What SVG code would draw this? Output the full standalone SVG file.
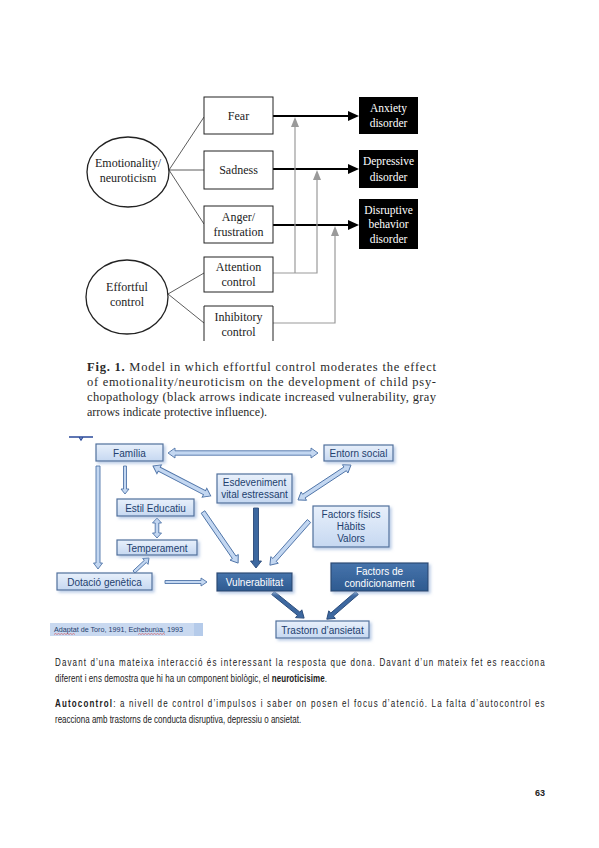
<svg xmlns="http://www.w3.org/2000/svg" width="599" height="848" viewBox="0 0 599 848">
<style>
.ser{font-family:"Liberation Serif","Times New Roman",serif;font-size:12px;fill:#222;text-anchor:middle}
.serw{font-family:"Liberation Serif","Times New Roman",serif;font-size:11.5px;fill:#fff;text-anchor:middle}
.box{fill:#fff;stroke:#222;stroke-width:1}
.bbox{fill:#000}
.ell{fill:#fff;stroke:#222;stroke-width:1.3}
.thin{stroke:#333;stroke-width:0.8;fill:none}
.blk{stroke:#000;stroke-width:1.8;fill:none}
.gry{stroke:#9a9a9a;stroke-width:1.2;fill:none}
.cap{font-family:"Liberation Serif","Times New Roman",serif;font-size:12.5px;fill:#2a2a2a}
.lb{fill:url(#lg);stroke:#50709c;stroke-width:1.2;filter:url(#sh)}
.db{fill:url(#dg);stroke:#2a4a74;stroke-width:1.2;filter:url(#sh)}
.lt{font-family:"Liberation Sans",Arial,sans-serif;font-size:10px;fill:#22406e;text-anchor:middle}
.dt{font-family:"Liberation Sans",Arial,sans-serif;font-size:10px;fill:#fff;text-anchor:middle}
.la{fill:#c3d7f1;stroke:#4f74a8;stroke-width:0.9}
.da{fill:#3d68a0;stroke:#2a4a78;stroke-width:0.9}
.para{font-family:"Liberation Sans",Arial,sans-serif;font-size:10px;fill:#1a1a1a}
</style>
<defs>
<linearGradient id="lg" x1="0" y1="0" x2="0" y2="1"><stop offset="0" stop-color="#e8f0fb"/><stop offset="1" stop-color="#c6d8f1"/></linearGradient>
<linearGradient id="dg" x1="0" y1="0" x2="0" y2="1"><stop offset="0" stop-color="#4674ac"/><stop offset="1" stop-color="#2e5a90"/></linearGradient>
<filter id="sh" x="-20%" y="-30%" width="150%" height="170%"><feDropShadow dx="2" dy="2" stdDeviation="1.5" flood-color="#a8bfe0" flood-opacity="0.8"/></filter>
</defs>
<rect width="599" height="848" fill="#fff"/>

<!-- Top figure -->
<g id="top-connectors">
<line class="thin" x1="169" y1="170" x2="204" y2="117"/>
<line class="thin" x1="169" y1="170" x2="204" y2="170"/>
<line class="thin" x1="169" y1="170" x2="204" y2="224"/>
<line class="thin" x1="168" y1="294" x2="204" y2="273"/>
<line class="thin" x1="168" y1="294" x2="204" y2="323"/>
<line class="blk" x1="273" y1="116" x2="350" y2="116"/>
<polygon points="359,116 348,111 348,121" fill="#000"/>
<line class="blk" x1="273" y1="169" x2="350" y2="169"/>
<polygon points="359,169 348,164 348,174" fill="#000"/>
<line class="blk" x1="273" y1="225" x2="350" y2="225"/>
<polygon points="359,225 348,220 348,230" fill="#000"/>
<polyline class="gry" points="273,273 317,273 317,178"/>
<line class="gry" x1="295" y1="273" x2="295" y2="126"/>
<polyline class="gry" points="273,323 335,323 335,234"/>
<polygon points="295,117 291,127 299,127" fill="#9a9a9a"/>
<polygon points="317,170 313,180 321,180" fill="#9a9a9a"/>
<polygon points="335,226 331,236 339,236" fill="#9a9a9a"/>
</g>
<g id="emotionality">
<ellipse class="ell" cx="128" cy="172" rx="41" ry="35"/>
<text class="ser" x="128" y="167">Emotionality/</text>
<text class="ser" x="128" y="182">neuroticism</text>
</g>
<g id="effortful">
<ellipse class="ell" cx="127" cy="297" rx="41" ry="37"/>
<text class="ser" x="127" y="291">Effortful</text>
<text class="ser" x="127" y="306">control</text>
</g>
<g id="fear"><rect class="box" x="204" y="97" width="69" height="37"/><text class="ser" x="238.5" y="120">Fear</text></g>
<g id="sadness"><rect class="box" x="204" y="151" width="69" height="38"/><text class="ser" x="238.5" y="174">Sadness</text></g>
<g id="anger"><rect class="box" x="204" y="206" width="69" height="37"/><text class="ser" x="238.5" y="221">Anger/</text><text class="ser" x="238.5" y="236">frustration</text></g>
<g id="attention"><rect class="box" x="204" y="257" width="69" height="35"/><text class="ser" x="238.5" y="271">Attention</text><text class="ser" x="238.5" y="286">control</text></g>
<g id="inhibitory"><path class="box" d="M204,341 V306 H273 V341"/><text class="ser" x="238.5" y="321">Inhibitory</text><text class="ser" x="238.5" y="336">control</text></g>
<g id="anxiety"><rect class="bbox" x="359" y="97" width="59" height="37"/><text class="serw" x="388.5" y="112">Anxiety</text><text class="serw" x="388.5" y="127">disorder</text></g>
<g id="depressive"><rect class="bbox" x="359" y="150" width="59" height="38"/><text class="serw" x="388.5" y="165">Depressive</text><text class="serw" x="388.5" y="181">disorder</text></g>
<g id="disruptive"><rect class="bbox" x="359" y="199" width="59" height="50"/><text class="serw" x="388.5" y="214">Disruptive</text><text class="serw" x="388.5" y="228">behavior</text><text class="serw" x="388.5" y="243">disorder</text></g>

<g id="caption">
<text class="cap" x="87" y="371" textLength="349" lengthAdjust="spacing"><tspan font-weight="bold">Fig. 1.</tspan> Model in which effortful control moderates the effect</text>
<text class="cap" x="87" y="386" textLength="349" lengthAdjust="spacing">of emotionality/neuroticism on the development of child psy-</text>
<text class="cap" x="87" y="401" textLength="349" lengthAdjust="spacing">chopathology (black arrows indicate increased vulnerability, gray</text>
<text class="cap" x="87" y="416" textLength="180" lengthAdjust="spacingAndGlyphs">arrows indicate protective influence).</text>
</g>

<!-- Bottom figure -->
<path d="M69,437 H93 M79,437 L81,440 L83,437" stroke="#2a4a9a" stroke-width="1.3" fill="none"/>
<g id="bottom-connectors">
<polygon class="la" transform="translate(168,453)" points="0,0 7,-5 7,-2.2 143,-2.2 143,-5 150,0 143,5 143,2.2 7,2.2 7,5"/>
<polygon class="la" transform="translate(153,466) rotate(27.4)" points="0,0 7,-5 7,-2.2 58,-2.2 58,-5 65,0 58,5 58,2.2 7,2.2 7,5"/>
<polygon class="la" transform="translate(351,465) rotate(146.6)" points="0,0 7,-5 7,-2.2 56.5,-2.2 56.5,-5 63.5,0 56.5,5 56.5,2.2 7,2.2 7,5"/>
<polygon class="la" transform="translate(125,466) rotate(90)" points="0,-1.5 23,-1.5 23,-4 28,0 23,4 23,1.5 0,1.5"/>
<polygon class="la" transform="translate(98,466) rotate(90)" points="0,-2 97,-2 97,-4.5 103,0 97,4.5 97,2 0,2"/>
<polygon class="la" transform="translate(157,518) rotate(90)" points="0,0 5,-4.5 5,-1.8 15,-1.8 15,-4.5 20,0 15,4.5 15,1.8 5,1.8 5,4.5"/>
<polygon class="la" transform="translate(134,572) rotate(-43)" points="0,-1.5 15.5,-1.5 15.5,-4 20.5,0 15.5,4 15.5,1.5 0,1.5"/>
<polygon class="la" transform="translate(165,582)" points="0,-1.5 36,-1.5 36,-4 42,0 36,4 36,1.5 0,1.5"/>
<polygon class="la" transform="translate(203,512) rotate(55.5)" points="0,-2.2 55,-2.2 55,-5 62,0 55,5 55,2.2 0,2.2"/>
<polygon class="da" transform="translate(256,508) rotate(90)" points="0,-2.5 53,-2.5 53,-5.5 60,0 53,5.5 53,2.5 0,2.5"/>
<polygon class="la" transform="translate(309,521) rotate(131.5)" points="0,-2.2 52,-2.2 52,-5 59,0 52,5 52,2.2 0,2.2"/>
<polygon class="da" transform="translate(273,593) rotate(38.9)" points="0,-2 33,-2 33,-5 40,0 33,5 33,2 0,2"/>
<polygon class="da" transform="translate(357,593) rotate(139.1)" points="0,-2 33,-2 33,-5 40,0 33,5 33,2 0,2"/>
</g>
<g id="familia"><rect class="lb" x="96" y="444" width="67" height="17"/><text class="lt" x="129.5" y="456.5">Família</text></g>
<g id="entorn"><rect class="lb" x="324" y="445" width="69" height="16"/><text class="lt" x="358.5" y="457">Entorn social</text></g>
<g id="esdeveniment"><rect class="lb" x="217" y="474" width="75" height="29"/><text class="lt" x="254.5" y="486">Esdeveniment</text><text class="lt" x="254.5" y="498">vital estressant</text></g>
<g id="estil"><rect class="lb" x="117" y="499" width="77" height="17"/><text class="lt" x="155.5" y="511.5">Estil Educatiu</text></g>
<g id="temperament"><rect class="lb" x="117" y="540" width="80" height="15"/><text class="lt" x="157" y="551.5">Temperament</text></g>
<g id="dotacio"><rect class="lb" x="57" y="573" width="95" height="17"/><text class="lt" x="104.5" y="585.5">Dotació genètica</text></g>
<g id="factors-fisics"><rect class="lb" x="313" y="506" width="76" height="41"/><text class="lt" x="351" y="518">Factors físics</text><text class="lt" x="351" y="529.5">Hàbits</text><text class="lt" x="351" y="541.5">Valors</text></g>
<g id="vulnerabilitat"><rect class="db" x="217" y="573" width="75" height="18"/><text class="dt" x="254.5" y="585.5">Vulnerabilitat</text></g>
<g id="factors-cond"><rect class="db" x="331" y="563" width="97" height="28"/><text class="dt" x="379.5" y="575">Factors de</text><text class="dt" x="379.5" y="587">condicionament</text></g>
<g id="trastorn"><rect class="lb" x="276" y="621" width="93" height="17"/><text class="lt" x="322.5" y="633.5">Trastorn d’ansietat</text></g>
<g id="citation">
<rect x="50" y="623" width="153" height="13" fill="#c9d9f0"/>
<rect x="194" y="623" width="9" height="13" fill="#b5cbea"/>
<text x="54" y="632" font-family="'Liberation Sans',Arial,sans-serif" font-size="7" fill="#1f3d6e" textLength="129" lengthAdjust="spacingAndGlyphs">Adaptat de Toro, 1991, Echeburúa, 1993</text>
<path d="M54,634.5 l1.5,-1 l1.5,1 l1.5,-1 l1.5,1 l1.5,-1 l1.5,1 l1.5,-1 l1.5,1 l1.5,-1 l1.5,1 l1.5,-1 l1.5,1 l1.5,-1 l1.5,1 M138,634.5 l1.5,-1 l1.5,1 l1.5,-1 l1.5,1 l1.5,-1 l1.5,1 l1.5,-1 l1.5,1 l1.5,-1 l1.5,1 l1.5,-1 l1.5,1 l1.5,-1 l1.5,1 l1.5,-1 l1.5,1 l1.5,-1 l1.5,1" stroke="#d03030" stroke-width="0.5" fill="none"/>
</g>

<g id="paragraph">
<text class="para" transform="translate(55,666) scale(0.8,1)" x="0" y="0" textLength="612" lengthAdjust="spacing">Davant d’una mateixa interacció és interessant la resposta que dona. Davant d’un mateix fet es reacciona</text>
<text class="para" transform="translate(55,682) scale(0.8,1)" x="0" y="0" textLength="340" lengthAdjust="spacing">diferent i ens demostra que hi ha un component biològic, el <tspan font-weight="bold">neuroticisime</tspan>.</text>
<text class="para" transform="translate(55,707) scale(0.8,1)" x="0" y="0" textLength="612" lengthAdjust="spacing"><tspan font-weight="bold">Autocontrol</tspan>: a nivell de control d’impulsos i saber on posen el focus d’atenció. La falta d’autocontrol es</text>
<text class="para" transform="translate(55,723) scale(0.8,1)" x="0" y="0">reacciona amb trastorns de conducta disruptiva, depressiu o ansietat.</text>
</g>
<text x="540" y="796" font-family="'Liberation Sans',Arial,sans-serif" font-size="9" font-weight="bold" fill="#222" text-anchor="middle">63</text>
</svg>
